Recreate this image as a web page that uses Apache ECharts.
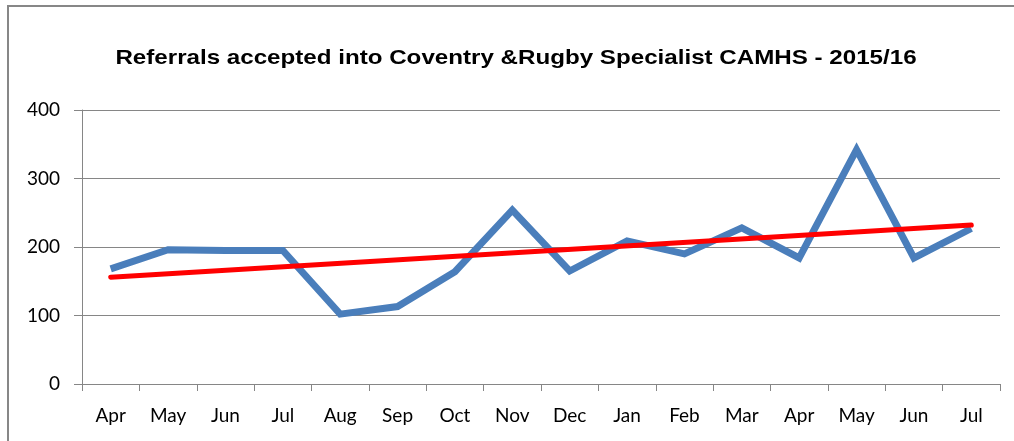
<!DOCTYPE html>
<html>
<head>
<meta charset="utf-8">
<script src="https://cdn.jsdelivr.net/npm/echarts@6/dist/echarts.min.js"></script>
<style>html,body{margin:0;padding:0;background:#fff}#c{width:1014px;height:441px}</style>
</head>
<body>
<div id="c"></div>
<script>
const categories = ['Apr','May','Jun','Jul','Aug','Sep','Oct','Nov','Dec','Jan','Feb','Mar','Apr','May','Jun','Jul'];
const referrals = [168,196,195,195,102,113,164,254,165,209,190,228,184,342,184,227];
const trendStartEnd = [156, 232];
const yTicks = [0, 100, 200, 300, 400];
const titleText = 'Referrals accepted into Coventry &Rugby Specialist CAMHS - 2015/16';

const chart = echarts.init(document.getElementById('c'), null, {renderer:'canvas'});
const labelFont = {fontFamily:'Lato', fontSize:19, color:'#000'};
chart.setOption({
  animation:false,
  backgroundColor:'#fff',
  graphic:[
    {type:'rect', shape:{x:8, y:6, width:1030, height:470}, style:{fill:'none', stroke:'#878787', lineWidth:2}, silent:true},
    {type:'text', x:516, y:58, scaleX:1.15, silent:true,
      style:{text:titleText, align:'center', verticalAlign:'middle', fill:'#000',
        font:'bold 21px "Liberation Sans", Arial, sans-serif'}}
  ],
  grid:{left:82, right:14, top:110, bottom:57, containLabel:false},
  xAxis:{type:'category', data:categories, boundaryGap:true,
    axisLine:{lineStyle:{color:'#868686', width:1}},
    axisTick:{show:true, length:7, alignWithLabel:false, lineStyle:{color:'#868686'}},
    axisLabel:Object.assign({margin:22, interval:0}, labelFont)},
  yAxis:{type:'value', min:yTicks[0], max:yTicks[yTicks.length-1], interval:100,
    axisLine:{show:true, lineStyle:{color:'#868686', width:1}},
    axisTick:{show:true, length:8, lineStyle:{color:'#868686'}},
    splitLine:{lineStyle:{color:'#868686', width:1}},
    axisLabel:Object.assign({margin:22}, labelFont)},
  series:[
    {type:'line', data:referrals, symbol:'none', lineStyle:{color:'#4a7ebb', width:7, join:'miter'}, z:2},
    {type:'line', data:[[0,trendStartEnd[0]],[categories.length-1,trendStartEnd[1]]], symbol:'none',
      lineStyle:{color:'#ff0000', width:5, cap:'round'}, z:3}
  ]
});
</script>
</body>
</html>
